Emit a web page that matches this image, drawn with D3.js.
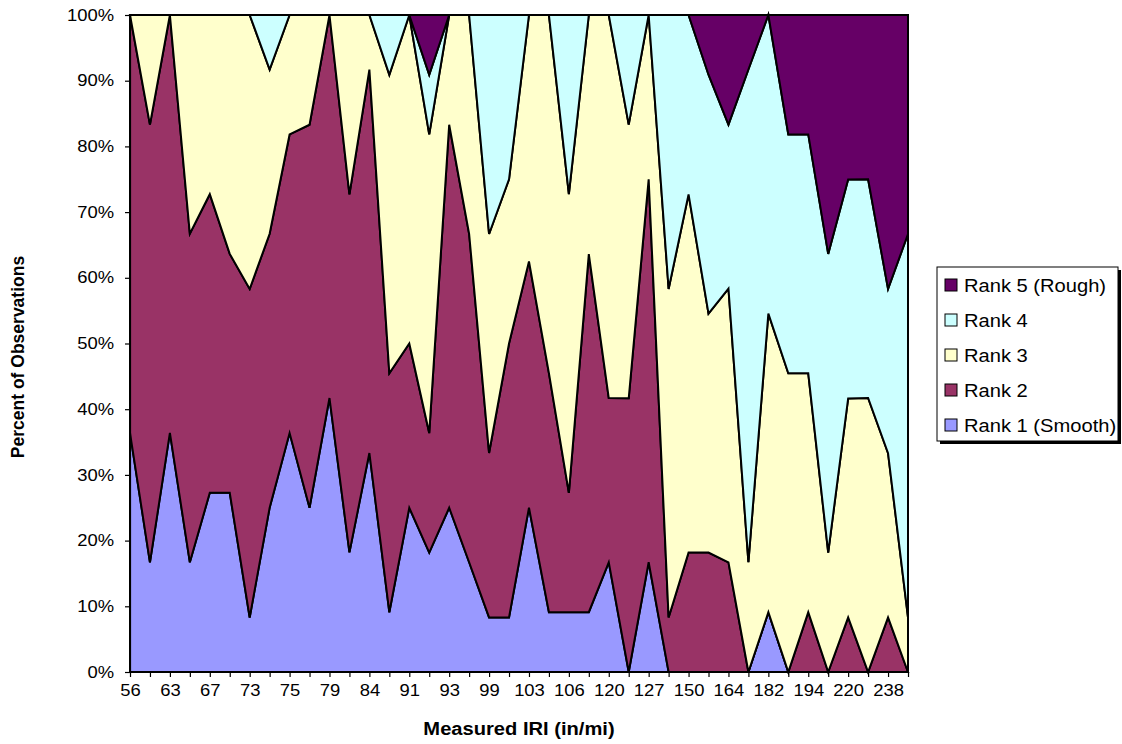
<!DOCTYPE html>
<html>
<head>
<meta charset="utf-8">
<script src="https://cdn.jsdelivr.net/npm/d3@7"></script>
<style>
  html, body { margin: 0; padding: 0; background: #fff; }
  svg { display: block; font-family: "Liberation Sans", Arial, sans-serif; }
</style>
</head>
<body>
<svg id="chart" width="1122" height="744"></svg>
<script>
// Measured IRI categories (odd-index labels are hidden on the axis, as in the original)
const categories = [56,60,63,65,67,70,73,74,75,77,79,82,84,88,91,92,93,96,99,101,
                    103,105,106,110,120,124,127,140,150,157,164,170,182,188,194,200,220,230,238,250];
const seriesNames = ["Rank 1 (Smooth)", "Rank 2", "Rank 3", "Rank 4", "Rank 5 (Rough)"];
const rank1 = [36.4,16.7,36.4,16.7,27.3,27.3,8.3,25,36.4,25,41.7,18.2,33.3,9.1,25,18.2,25,16.7,8.3,8.3,
               25,9.1,9.1,9.1,16.7,0,16.7,0,0,0,0,0,9.1,0,0,0,0,0,0,0];
const rank2 = [63.6,66.7,63.6,50,45.5,36.4,50,41.7,45.5,58.3,58.3,54.5,58.3,36.4,25,18.2,58.3,50,25,41.7,
               37.5,36.4,18.2,54.5,25,41.7,58.3,8.3,18.2,18.2,16.7,0,0,0,9.1,0,8.3,0,8.3,0];
const rank3 = [0,16.7,0,33.3,27.3,36.4,41.7,25,18.2,16.7,0,27.3,8.3,45.5,50,45.5,16.7,33.3,33.3,25,
               37.5,54.5,45.5,36.4,58.3,41.7,25,50,54.5,36.4,41.7,16.7,45.5,45.5,36.4,18.2,33.3,41.7,25,8.3];
const rank4 = [0,0,0,0,0,0,0,8.3,0,0,0,0,0,9.1,0,9.1,0,0,33.3,25,
               0,0,27.3,0,0,16.7,0,41.7,27.3,36.4,25,75,45.5,36.4,36.4,45.5,33.3,33.3,25,58.3];
const rank5 = [0,0,0,0,0,0,0,0,0,0,0,0,0,0,0,9.1,0,0,0,0,
               0,0,0,0,0,0,0,0,0,9.1,16.7,8.3,0,18.2,18.2,36.4,25,25,41.7,33.3];
const yTicks = [0,0.1,0.2,0.3,0.4,0.5,0.6,0.7,0.8,0.9,1];
const colors = ["#9999FF", "#993366", "#FFFFCC", "#CCFFFF", "#660066"];

const seriesValues = [rank1, rank2, rank3, rank4, rank5];
const table = categories.map((c, i) => {
  const row = { cat: c };
  seriesNames.forEach((s, k) => row[s] = seriesValues[k][i]);
  return row;
});

const svg = d3.select("#chart");
const pL = 130, pR = 908, pT = 15, pB = 672;
const STRETCH = 1.15;

const x = d3.scalePoint().domain(categories).range([pL, pR]).padding(0);
const y = d3.scaleLinear().domain([0, 1]).range([pB, pT]);

const stack = d3.stack().keys(seriesNames).offset(d3.stackOffsetExpand);
const stacked = stack(table);

const area = d3.area()
  .x(d => x(d.data.cat))
  .y0(d => y(d[0]))
  .y1(d => y(d[1]));

svg.append("g").selectAll("path")
  .data(stacked)
  .join("path")
  .attr("d", area)
  .attr("fill", (d, i) => colors[i])
  .attr("stroke", "#000")
  .attr("stroke-width", 2)
  .attr("stroke-linejoin", "miter");

// plot border
svg.append("rect")
  .attr("x", pL).attr("y", pT)
  .attr("width", pR - pL).attr("height", pB - pT)
  .attr("fill", "none").attr("stroke", "#000").attr("stroke-width", 1.5);

function stretchText(sel, k) {
  sel.each(function() {
    const len = this.getComputedTextLength();
    if (len > 0) {
      d3.select(this).attr("textLength", len * k).attr("lengthAdjust", "spacingAndGlyphs");
    }
  });
}

// Y axis
const yAxis = svg.append("g")
  .attr("transform", `translate(${pL},0)`)
  .call(d3.axisLeft(y).tickValues(yTicks).tickFormat(d3.format(".0%")).tickSize(5).tickPadding(11));
yAxis.selectAll("text").attr("font-size", 16).attr("fill", "#000")
  .attr("font-family", "Liberation Sans, Arial, sans-serif");
yAxis.selectAll("line,path").attr("stroke", "#000").attr("stroke-width", 1.2);
stretchText(yAxis.selectAll("text"), STRETCH);

// X axis
const labeled = categories.filter((c, i) => i % 2 === 0);
const xAxis = svg.append("g")
  .attr("transform", `translate(0,${pB})`)
  .call(d3.axisBottom(x).tickSize(5).tickSizeOuter(0).tickPadding(8)
        .tickFormat(c => labeled.includes(c) ? c : ""));
xAxis.selectAll("text").attr("font-size", 16).attr("fill", "#000")
  .attr("font-family", "Liberation Sans, Arial, sans-serif");
xAxis.selectAll("line,path").attr("stroke", "#000").attr("stroke-width", 1.2);
stretchText(xAxis.selectAll("text"), STRETCH);

// Axis titles
const xt = svg.append("text")
  .attr("x", 519).attr("y", 735)
  .attr("text-anchor", "middle")
  .attr("font-size", 17.5).attr("font-weight", "bold")
  .text("Measured IRI (in/mi)");
stretchText(xt, STRETCH);

svg.append("text")
  .attr("transform", "translate(24,357) rotate(-90)")
  .attr("text-anchor", "middle")
  .attr("font-size", 17.5).attr("font-weight", "bold")
  .text("Percent of Observations");

// Legend
const lg = svg.append("g");
const lx = 937, ly = 267, lw = 181, lh = 174;
lg.append("rect").attr("x", lx + 3).attr("y", ly + 3).attr("width", lw).attr("height", lh).attr("fill", "#000");
lg.append("rect").attr("x", lx).attr("y", ly).attr("width", lw).attr("height", lh)
  .attr("fill", "#fff").attr("stroke", "#000").attr("stroke-width", 1);
const legendOrder = [4, 3, 2, 1, 0];
legendOrder.forEach((k, j) => {
  const cy = 285 + j * 35;
  lg.append("rect").attr("x", 945).attr("y", cy - 6).attr("width", 12).attr("height", 12)
    .attr("fill", colors[k]).attr("stroke", "#000").attr("stroke-width", 1);
  const t = lg.append("text").attr("x", 964).attr("y", cy + 6.5)
    .attr("font-size", 17.5).text(seriesNames[k]);
  stretchText(t, STRETCH);
});
</script>
</body>
</html>
